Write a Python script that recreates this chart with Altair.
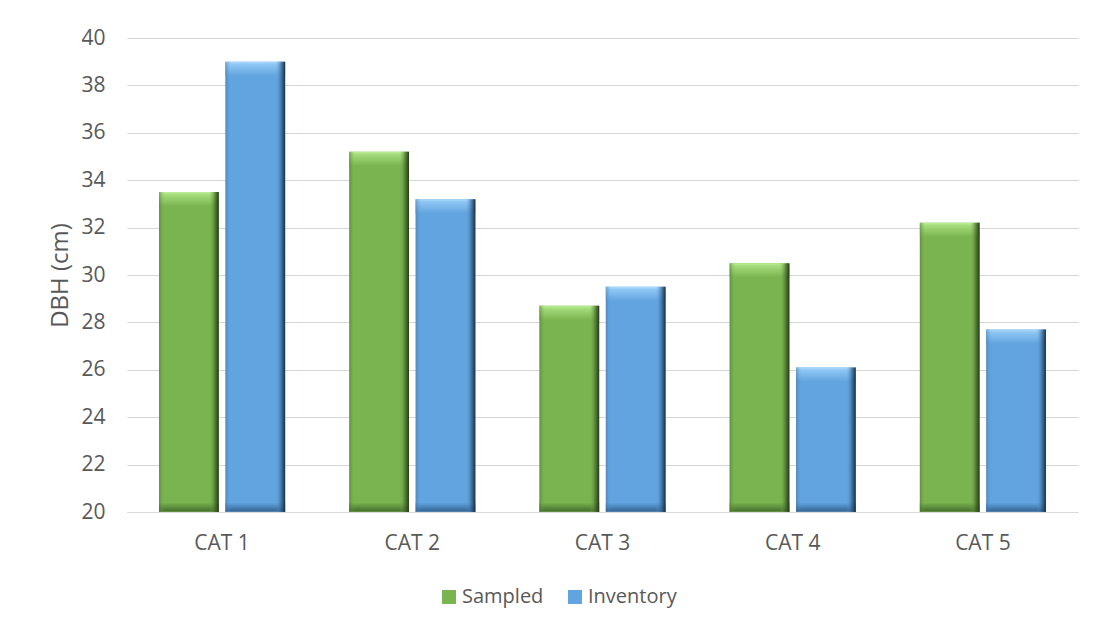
import altair as alt
import pandas as pd

categories = ["CAT 1", "CAT 2", "CAT 3", "CAT 4", "CAT 5"]
series_names = ["Sampled", "Inventory"]
sampled = [33.5, 35.2, 28.7, 30.5, 32.2]
inventory = [39.0, 33.2, 29.5, 26.1, 27.7]
y_ticks = [20, 22, 24, 26, 28, 30, 32, 34, 36, 38, 40]

face = {"Sampled": "#7AB450", "Inventory": "#62A4DF"}
side_stops = {
    "Sampled": ["rgba(70,110,45,0.55)", "rgba(122,180,80,0)", "rgba(122,180,80,0)",
                "rgba(60,95,38,0.7)", "rgba(35,58,22,1)"],
    "Inventory": ["rgba(55,100,150,0.45)", "rgba(98,164,223,0)", "rgba(98,164,223,0)",
                  "rgba(45,85,125,0.7)", "rgba(22,45,70,1)"],
}
top_stops = {
    "Sampled": ["#BCEF97", "#A4DB7B", "#7AB450"],
    "Inventory": ["#ADDBFB", "#8DC6F3", "#62A4DF"],
}
bottom_stops = {
    "Sampled": ["#7AB450", "#5A8A3B", "#4A7530", "#6E9E4C"],
    "Inventory": ["#62A4DF", "#4680B5", "#3A6A97", "#5B8FC0"],
}

rows = []
for c, s, i in zip(categories, sampled, inventory):
    rows.append({"cat": c, "series": "Sampled", "value": s})
    rows.append({"cat": c, "series": "Inventory", "value": i})
df = pd.DataFrame(rows)

FONT = "Open Sans"
TXT = "#595959"

x_enc = alt.X(
    "cat:N",
    sort=categories,
    scale=alt.Scale(paddingInner=0.337, paddingOuter=0.1685),
    axis=alt.Axis(
        title=None, labelAngle=0, ticks=False, tickSize=0, domain=True,
        domainColor="#D9D9D9", domainWidth=1, labelFontSize=21, labelFont=FONT,
        labelColor=TXT, labelPadding=20, grid=False,
    ),
)
xoff_enc = alt.XOffset(
    "series:N",
    scale=alt.Scale(domain=series_names, paddingInner=0.1, paddingOuter=0),
)
y_scale = alt.Scale(domain=[20, 40], zero=False, nice=False)
y_enc = alt.Y(
    "value:Q",
    scale=y_scale,
    axis=alt.Axis(
        values=y_ticks, title="DBH (cm)", domain=False, ticks=False, tickSize=0,
        grid=True, gridColor="#D6D6D6", gridWidth=1.2, labelFontSize=21,
        labelFont=FONT, labelColor=TXT, labelPadding=22, titleFontSize=24,
        titleFont=FONT, titleFontWeight="normal", titleColor=TXT, titlePadding=8,
    ),
)

base = alt.Chart(df).mark_bar().encode(
    x=x_enc,
    xOffset=xoff_enc,
    y=y_enc,
    y2=alt.datum(20),
    color=alt.Color(
        "series:N",
        scale=alt.Scale(domain=series_names, range=[face[s] for s in series_names]),
        legend=alt.Legend(
            title=None, orient="none", direction="horizontal", legendX=312,
            legendY=549, symbolType="square", symbolSize=196, symbolStrokeWidth=0,
            labelFontSize=20, labelFont=FONT, labelColor=TXT, labelOffset=3,
            columnPadding=21,
        ),
    ),
)


def grad(colors, offsets, horizontal=True):
    stops = [alt.GradientStop(offset=o, color=c) for o, c in zip(offsets, colors)]
    if horizontal:
        return alt.LinearGradient(gradient="linear", stops=stops, x1=0, x2=1, y1=0, y2=0)
    return alt.LinearGradient(gradient="linear", stops=stops, x1=0, x2=0, y1=0, y2=1)


layers = [base]
for s in series_names:
    sub = alt.Chart(df).transform_filter(alt.datum.series == s)
    top = sub.transform_calculate(bev="datum.value - 0.6").mark_bar(
        color=grad(top_stops[s], [0, 0.2, 1], horizontal=False)
    ).encode(x=x_enc, xOffset=xoff_enc, y=y_enc, y2="bev:Q")
    bottom = sub.transform_calculate(bev="20.4").mark_bar(
        color=grad(bottom_stops[s], [0, 0.55, 0.85, 1], horizontal=False)
    ).encode(x=x_enc, xOffset=xoff_enc, y=alt.Y("bev:Q", scale=y_scale), y2=alt.datum(20))
    side = sub.mark_bar(
        color=grad(side_stops[s], [0, 0.09, 0.84, 0.94, 1])
    ).encode(x=x_enc, xOffset=xoff_enc, y=y_enc, y2=alt.datum(20))
    layers += [top, bottom, side]

chart = alt.layer(*layers).properties(
    width=951,
    height=474,
    autosize=alt.AutoSizeParams(type="none"),
    padding={"left": 127, "top": 38, "right": 17, "bottom": 118},
    background="white",
).configure_view(stroke=None)

chart.save("out.html", embed_options={"renderer": "svg", "actions": False})
